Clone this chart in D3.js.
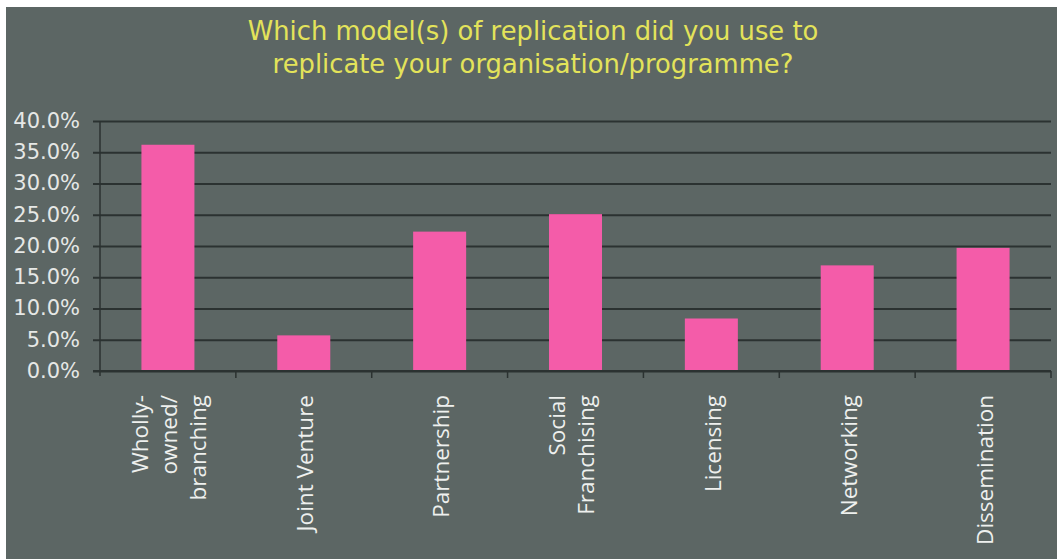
<!DOCTYPE html>
<html>
<head>
<meta charset="utf-8">
<script src="https://cdn.jsdelivr.net/npm/d3@7"></script>
<style>
  html, body { margin: 0; padding: 0; background: #ffffff; }
  svg { display: block; }
</style>
</head>
<body>
<svg id="chart" width="1057" height="559"></svg>
<script>
const categories = [
  ["Wholly-", "owned/", "branching"],
  ["Joint Venture"],
  ["Partnership"],
  ["Social", "Franchising"],
  ["Licensing"],
  ["Networking"],
  ["Dissemination"]
];
const values = [36.2, 5.7, 22.3, 25.1, 8.4, 16.9, 19.7];
const yTicks = [0, 5, 10, 15, 20, 25, 30, 35, 40];
const titleLines = ["Which model(s) of replication did you use to", "replicate your organisation/programme?"];

const svg = d3.select("#chart");
const W = 1057, H = 559;

svg.append("rect").attr("x", 6).attr("y", 7).attr("width", W - 6).attr("height", H - 7)
  .attr("fill", "#5c6664");

// title
svg.append("g").selectAll("text").data(titleLines).join("text")
  .attr("x", 533).attr("y", (d, i) => 40 + i * 33)
  .attr("text-anchor", "middle")
  .attr("font-family", "DejaVu Sans, sans-serif")
  .attr("font-size", 25.8)
  .attr("fill", "#e3e35a")
  .text(d => d);

const x = d3.scaleBand().domain(d3.range(categories.length)).range([100, 1051]).padding(0);
const y = d3.scaleLinear().domain([0, 40]).range([371, 121]);

// gridlines + y axis
const yAxis = d3.axisLeft(y).tickValues(yTicks).tickSize(-(1051 - 100)).tickPadding(20)
  .tickFormat(d => d3.format(".1f")(d) + "%");
const gy = svg.append("g").attr("transform", "translate(100,0)").call(yAxis);
gy.select(".domain").remove();
gy.selectAll(".tick line").attr("x1", -7).attr("stroke", "#2b3231").attr("stroke-width", 2);
gy.selectAll(".tick text")
  .attr("font-family", "DejaVu Sans, sans-serif")
  .attr("font-size", 21)
  .attr("fill", "#e6e8e6")
  .attr("dy", "0.3em")
  .attr("x", -20);

// bars
const bw = 53;
svg.append("g").selectAll("rect").data(values).join("rect")
  .attr("x", (d, i) => x(i) + x.bandwidth() / 2 - bw / 2)
  .attr("width", bw)
  .attr("y", d => y(d))
  .attr("height", d => y(0) - y(d))
  .attr("fill", "#f45ca9");

// y axis line
svg.append("line").attr("x1", 100).attr("x2", 100).attr("y1", 121).attr("y2", 376)
  .attr("stroke", "#2b3231").attr("stroke-width", 1.5);

// x axis line + ticks at band boundaries
const bounds = d3.range(categories.length + 1).map(i => 100 + i * x.step());
svg.append("line").attr("x1", 93).attr("x2", 1051).attr("y1", 371).attr("y2", 371)
  .attr("stroke", "#2b3231").attr("stroke-width", 2);
svg.append("g").selectAll("line").data(bounds.slice(1)).join("line")
  .attr("x1", d => d).attr("x2", d => d).attr("y1", 371).attr("y2", 378)
  .attr("stroke", "#2b3231").attr("stroke-width", 1.5);

// category labels, rotated
const lineGap = 29;
const gl = svg.append("g");
categories.forEach((lines, i) => {
  const cx = x(i) + x.bandwidth() / 2 + 1.5;
  const n = lines.length;
  const shift = n === 2 ? -6 : 0;
  lines.forEach((t, j) => {
    const lx = cx + (j - (n - 1) / 2) * lineGap + 8 + shift;
    gl.append("text")
      .attr("transform", `translate(${lx},395) rotate(-90)`)
      .attr("text-anchor", "end")
      .attr("font-family", "Open Sans, sans-serif")
      .attr("font-size", 22.5)
      .attr("fill", "#eef0ee")
      .text(t);
  });
});
</script>
</body>
</html>
